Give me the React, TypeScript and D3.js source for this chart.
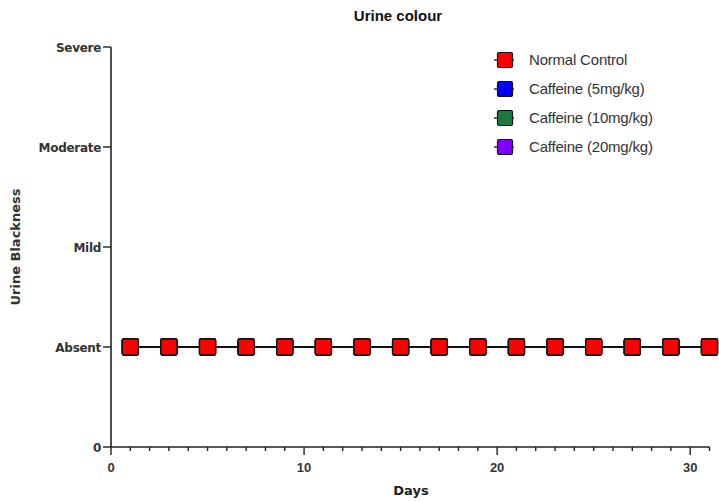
import React, { useEffect, useRef } from "react";
import * as d3 from "d3";

// days measured, one point every other day
const days = [1, 3, 5, 7, 9, 11, 13, 15, 17, 19, 21, 23, 25, 27, 29, 31];
// score 1 = Absent
const normalControl = [1, 1, 1, 1, 1, 1, 1, 1, 1, 1, 1, 1, 1, 1, 1, 1];
const caffeine5 = [1, 1, 1, 1, 1, 1, 1, 1, 1, 1, 1, 1, 1, 1, 1, 1];
const caffeine10 = [1, 1, 1, 1, 1, 1, 1, 1, 1, 1, 1, 1, 1, 1, 1, 1];
const caffeine20 = [1, 1, 1, 1, 1, 1, 1, 1, 1, 1, 1, 1, 1, 1, 1, 1];
const seriesNames = ["Normal Control", "Caffeine (5mg/kg)", "Caffeine (10mg/kg)", "Caffeine (20mg/kg)"];
const seriesColors = ["#ff0000", "#0000ff", "#1b7a3e", "#8000ff"];
const yTickLabels = ["0", "Absent", "Mild", "Moderate", "Severe"];

const App = () => {
  const ref = useRef<SVGSVGElement>(null);

  useEffect(() => {
    const svg = d3.select(ref.current);
    svg.selectAll("*").remove();

    const font = "'Liberation Sans', Arial, sans-serif";
    const dejavu = "'DejaVu Sans', Verdana, sans-serif";
    const x = d3.scaleLinear().domain([0, 31]).range([111, 709.5]);
    const y = d3.scaleLinear().domain([0, 4]).range([447, 47]);

    svg
      .append("text")
      .attr("x", 398)
      .attr("y", 21)
      .attr("text-anchor", "middle")
      .attr("font-family", font)
      .attr("font-weight", "bold")
      .attr("font-size", 15)
      .attr("fill", "#111")
      .text("Urine colour");

    // x axis: minor ticks every day, labels every 10
    const xg = svg.append("g").attr("transform", "translate(0,447)");
    xg.append("line").attr("x1", x(0)).attr("x2", x(31)).attr("stroke", "#222").attr("stroke-width", 1.6);
    xg.selectAll(".tk")
      .data(d3.range(0, 32))
      .enter()
      .append("line")
      .attr("x1", (d) => x(d))
      .attr("x2", (d) => x(d))
      .attr("y1", 0)
      .attr("y2", (d) => (d % 10 === 0 ? 8 : 4))
      .attr("stroke", "#222")
      .attr("stroke-width", 1.4);
    xg.selectAll(".lb")
      .data([0, 10, 20, 30])
      .enter()
      .append("text")
      .attr("x", (d) => x(d))
      .attr("y", 25)
      .attr("text-anchor", "middle")
      .attr("font-family", font)
      .attr("font-weight", "bold")
      .attr("font-size", 13)
      .attr("fill", "#333")
      .text((d) => d);

    svg
      .append("text")
      .attr("x", 411)
      .attr("y", 495)
      .attr("text-anchor", "middle")
      .attr("font-family", dejavu)
      .attr("font-weight", "bold")
      .attr("font-size", 13)
      .attr("fill", "#222")
      .text("Days");

    // y axis
    const yg = svg.append("g").attr("transform", "translate(111,0)");
    yg.append("line").attr("y1", y(0)).attr("y2", y(4)).attr("stroke", "#222").attr("stroke-width", 1.6);
    yg.selectAll(".tk")
      .data(d3.range(0, 5))
      .enter()
      .append("line")
      .attr("x1", -8)
      .attr("x2", 0)
      .attr("y1", (d) => y(d))
      .attr("y2", (d) => y(d))
      .attr("stroke", "#222")
      .attr("stroke-width", 1.4);
    yg.selectAll(".lb")
      .data(d3.range(0, 5))
      .enter()
      .append("text")
      .attr("x", -10)
      .attr("y", (d) => y(d) + 4.5)
      .attr("text-anchor", "end")
      .attr("font-family", dejavu)
      .attr("font-weight", "bold")
      .attr("font-size", 12)
      .attr("letter-spacing", -0.3)
      .attr("fill", "#333")
      .text((d) => yTickLabels[d]);

    svg
      .append("text")
      .attr("transform", "translate(20,247) rotate(-90)")
      .attr("text-anchor", "middle")
      .attr("font-family", dejavu)
      .attr("font-weight", "bold")
      .attr("font-size", 13)
      .attr("fill", "#333")
      .text("Urine Blackness");

    // series, drawn last-to-first so Normal Control sits on top
    const allSeries = [normalControl, caffeine5, caffeine10, caffeine20];
    const line = d3
      .line<number>()
      .x((d, i) => x(days[i]))
      .y((d) => y(d));
    for (let s = allSeries.length - 1; s >= 0; s--) {
      const vals = allSeries[s];
      svg.append("path").datum(vals).attr("d", line).attr("fill", "none").attr("stroke", "#111").attr("stroke-width", 1.5);
      svg
        .selectAll(".pt" + s)
        .data(vals)
        .enter()
        .append("rect")
        .attr("x", (d, i) => x(days[i]) - 8)
        .attr("y", (d) => y(d) - 8)
        .attr("width", 16)
        .attr("height", 16)
        .attr("rx", 1.5)
        .attr("fill", seriesColors[s])
        .attr("stroke", "#111")
        .attr("stroke-width", 1.3);
    }

    // legend
    const lg = svg.append("g").attr("transform", "translate(505,60)");
    seriesNames.forEach((name, i) => {
      const g = lg.append("g").attr("transform", `translate(0,${i * 29})`);
      g.append("line").attr("x1", -11).attr("x2", 9).attr("stroke", "#111").attr("stroke-width", 1.3);
      g.append("rect")
        .attr("x", -7.5)
        .attr("y", -7.5)
        .attr("width", 15)
        .attr("height", 15)
        .attr("rx", 1.5)
        .attr("fill", seriesColors[i])
        .attr("stroke", "#111")
        .attr("stroke-width", 1.2);
      g.append("text")
        .attr("x", 24)
        .attr("y", 5)
        .attr("font-family", font)
        .attr("font-size", 15)
        .attr("letter-spacing", -0.2)
        .attr("fill", "#333")
        .text(name);
    });
  }, []);

  return (
    <div>
      <svg ref={ref} width={719} height={501} style={{ position: "absolute", left: 0, top: 0 }}></svg>
    </div>
  );
};

export default App;
